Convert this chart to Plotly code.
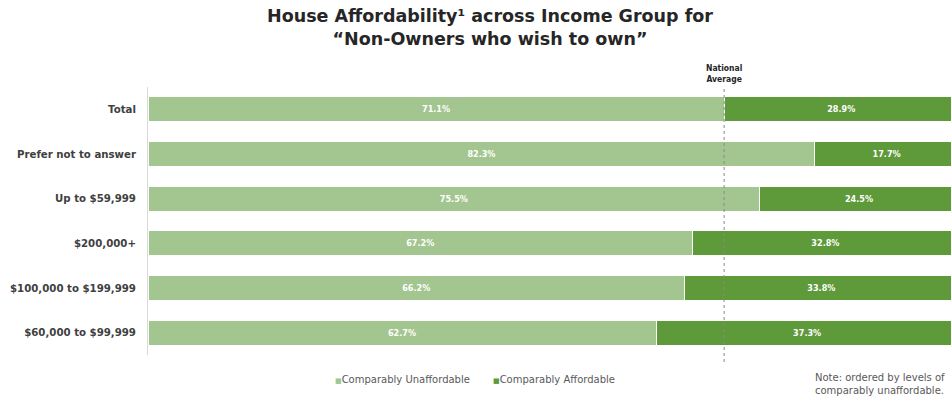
import plotly.graph_objects as go

# Income groups, listed top to bottom
groups = [
    "Total",
    "Prefer not to answer",
    "Up to $59,999",
    "$200,000+",
    "$100,000 to $199,999",
    "$60,000 to $99,999",
]
unaffordable = [71.1, 82.3, 75.5, 67.2, 66.2, 62.7]
affordable = [28.9, 17.7, 24.5, 32.8, 33.8, 37.3]
national_average = 71.1

LIGHT = "#A3C58F"
DARK = "#5E993A"
COND = "DejaVu Sans Condensed, DejaVu Sans"
LABEL_FONT = dict(family=COND, size=9, color="white", weight="bold")

W, H = 951, 397
ML, MR, MT, MB = 148, 0, 87, 42
pw, ph = W - ML - MR, H - MT - MB


def px_x(x):
    """Pixel column -> paper x."""
    return (x - ML) / pw


def px_y(y):
    """Pixel row (from top) -> paper y."""
    return (H - MB - y) / ph


fig = go.Figure()
fig.add_trace(go.Bar(
    y=groups, x=unaffordable, orientation="h", name="Comparably Unaffordable",
    marker=dict(color=LIGHT, line=dict(color="white", width=1)),
    texttemplate="%{x:.1f}%", textposition="inside", insidetextanchor="middle",
    textfont=LABEL_FONT, showlegend=False, width=0.56,
))
fig.add_trace(go.Bar(
    y=groups, x=affordable, orientation="h", name="Comparably Affordable",
    marker=dict(color=DARK, line=dict(color="white", width=1)),
    texttemplate="%{x:.1f}%", textposition="inside", insidetextanchor="middle",
    textfont=LABEL_FONT, showlegend=False, width=0.56,
))

# National average reference line
fig.add_shape(type="line", xref="x", yref="paper", x0=national_average, x1=national_average,
              y0=px_y(362), y1=1.0, line=dict(color="#8a8a8a", width=1, dash="dot"), layer="above")
fig.add_annotation(x=national_average, xref="x", y=1.0, yref="paper", yanchor="bottom",
                   text="<b>National<br>Average</b>", showarrow=False, yshift=1,
                   font=dict(family=COND, size=8.5, color="#262626"))

# Title
fig.add_annotation(x=px_x(490), y=px_y(4), xref="paper", yref="paper",
                   xanchor="center", yanchor="top", showarrow=False,
                   text="<b>House Affordability¹ across Income Group for<br>“Non-Owners who wish to own”</b>",
                   font=dict(family="DejaVu Sans", size=17.5, color="#262626"))

# Legend entries
legend_font = dict(family="DejaVu Sans", size=10, color="#595959")
fig.add_annotation(x=px_x(333), y=px_y(379), xref="paper", yref="paper", showarrow=False,
                   text=f'<span style="color:{LIGHT}; font-size:7px">■</span>Comparably Unaffordable',
                   font=legend_font, xanchor="left", yanchor="middle")
fig.add_annotation(x=px_x(491), y=px_y(379), xref="paper", yref="paper", showarrow=False,
                   text=f'<span style="color:{DARK}; font-size:7px">■</span>Comparably Affordable',
                   font=legend_font, xanchor="left", yanchor="middle")

# Footnote
fig.add_annotation(x=px_x(813), y=px_y(384), xref="paper", yref="paper", showarrow=False, align="left",
                   text="Note: ordered by levels of<br>comparably unaffordable.",
                   font=dict(family="DejaVu Sans", size=10, color="#595959"),
                   xanchor="left", yanchor="middle")

fig.update_layout(
    width=W, height=H,
    margin=dict(l=ML, r=MR, t=MT, b=MB),
    barmode="stack",
    plot_bgcolor="white", paper_bgcolor="white",
    xaxis=dict(range=[0, 99.1], visible=False, fixedrange=True),
    yaxis=dict(
        autorange="reversed", showgrid=False, zeroline=False,
        showline=True, linecolor="#d9d9d9", linewidth=1,
        ticks="", ticklabelstandoff=9,
        tickfont=dict(family="DejaVu Sans", size=10.2, color="#404040", weight="bold"),
    ),
    bargap=0.44,
)

fig.write_html("out.html")
